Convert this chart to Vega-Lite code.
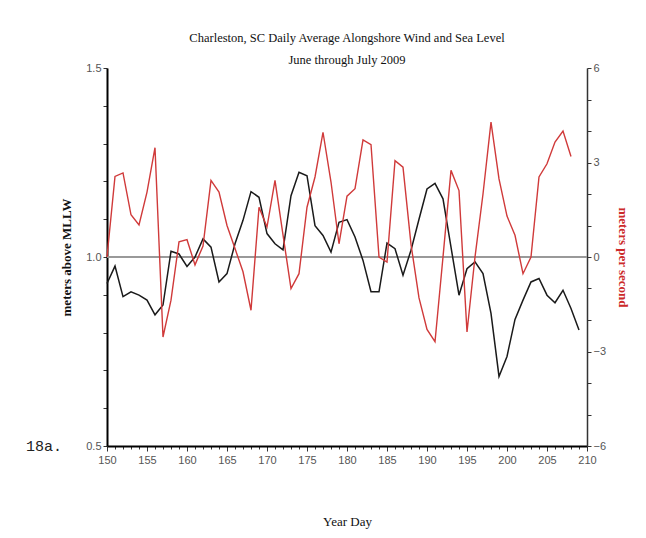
{
  "$schema": "https://vega.github.io/schema/vega-lite/v6.json",
  "width": 480,
  "height": 378,
  "autosize": "none",
  "padding": {"left": 107, "top": 68, "right": 59, "bottom": 92},
  "background": "white",
  "config": {"view": {"stroke": null}, "axis": {"grid": false, "labelFlush": false, "labelOverlap": false}},
  "title": {
    "text": "Charleston, SC Daily Average Alongshore Wind and Sea Level",
    "subtitle": "June through July 2009",
    "font": "Liberation Serif",
    "fontSize": 12.5,
    "fontWeight": "normal",
    "color": "#111111",
    "subtitleFont": "Liberation Serif",
    "subtitleFontSize": 12.5,
    "subtitleColor": "#111111",
    "anchor": "middle",
    "offset": -4,
    "subtitlePadding": 9
  },
  "datasets": {
    "sea": [
      {"day": 150, "sea": 0.930}, {"day": 151, "sea": 0.976}, {"day": 152, "sea": 0.895}, {"day": 153, "sea": 0.908},
      {"day": 154, "sea": 0.899}, {"day": 155, "sea": 0.886}, {"day": 156, "sea": 0.847}, {"day": 157, "sea": 0.873},
      {"day": 158, "sea": 1.015}, {"day": 159, "sea": 1.008}, {"day": 160, "sea": 0.975}, {"day": 161, "sea": 1.000},
      {"day": 162, "sea": 1.048}, {"day": 163, "sea": 1.026}, {"day": 164, "sea": 0.934}, {"day": 165, "sea": 0.956},
      {"day": 166, "sea": 1.035}, {"day": 167, "sea": 1.097}, {"day": 168, "sea": 1.173}, {"day": 169, "sea": 1.158},
      {"day": 170, "sea": 1.062}, {"day": 171, "sea": 1.035}, {"day": 172, "sea": 1.019}, {"day": 173, "sea": 1.162},
      {"day": 174, "sea": 1.224}, {"day": 175, "sea": 1.215}, {"day": 176, "sea": 1.083}, {"day": 177, "sea": 1.057},
      {"day": 178, "sea": 1.013}, {"day": 179, "sea": 1.092}, {"day": 180, "sea": 1.099}, {"day": 181, "sea": 1.053},
      {"day": 182, "sea": 0.991}, {"day": 183, "sea": 0.908}, {"day": 184, "sea": 0.908}, {"day": 185, "sea": 1.037},
      {"day": 186, "sea": 1.022}, {"day": 187, "sea": 0.952}, {"day": 188, "sea": 1.018}, {"day": 189, "sea": 1.100},
      {"day": 190, "sea": 1.180}, {"day": 191, "sea": 1.195}, {"day": 192, "sea": 1.154}, {"day": 193, "sea": 1.026},
      {"day": 194, "sea": 0.899}, {"day": 195, "sea": 0.969}, {"day": 196, "sea": 0.987}, {"day": 197, "sea": 0.956},
      {"day": 198, "sea": 0.851}, {"day": 199, "sea": 0.684}, {"day": 200, "sea": 0.737}, {"day": 201, "sea": 0.835},
      {"day": 202, "sea": 0.886}, {"day": 203, "sea": 0.934}, {"day": 204, "sea": 0.943}, {"day": 205, "sea": 0.899},
      {"day": 206, "sea": 0.879}, {"day": 207, "sea": 0.912}, {"day": 208, "sea": 0.864}, {"day": 209, "sea": 0.807}
    ],
    "wind": [
      {"day": 150, "wind": 0.0}, {"day": 151, "wind": 2.56}, {"day": 152, "wind": 2.67}, {"day": 153, "wind": 1.34},
      {"day": 154, "wind": 1.02}, {"day": 155, "wind": 2.06}, {"day": 156, "wind": 3.47}, {"day": 157, "wind": -2.54},
      {"day": 158, "wind": -1.37}, {"day": 159, "wind": 0.48}, {"day": 160, "wind": 0.55}, {"day": 161, "wind": -0.25},
      {"day": 162, "wind": 0.35}, {"day": 163, "wind": 2.43}, {"day": 164, "wind": 2.06}, {"day": 165, "wind": 1.0},
      {"day": 166, "wind": 0.27}, {"day": 167, "wind": -0.47}, {"day": 168, "wind": -1.69}, {"day": 169, "wind": 1.58},
      {"day": 170, "wind": 0.95}, {"day": 171, "wind": 2.43}, {"day": 172, "wind": 0.7}, {"day": 173, "wind": -1.0},
      {"day": 174, "wind": -0.53}, {"day": 175, "wind": 1.58}, {"day": 176, "wind": 2.54}, {"day": 177, "wind": 3.96},
      {"day": 178, "wind": 2.38}, {"day": 179, "wind": 0.42}, {"day": 180, "wind": 1.93}, {"day": 181, "wind": 2.17},
      {"day": 182, "wind": 3.72}, {"day": 183, "wind": 3.57}, {"day": 184, "wind": 0.0}, {"day": 185, "wind": -0.16},
      {"day": 186, "wind": 3.06}, {"day": 187, "wind": 2.85}, {"day": 188, "wind": 0.4}, {"day": 189, "wind": -1.3},
      {"day": 190, "wind": -2.3}, {"day": 191, "wind": -2.69}, {"day": 192, "wind": 0.0}, {"day": 193, "wind": 2.75},
      {"day": 194, "wind": 2.11}, {"day": 195, "wind": -2.38}, {"day": 196, "wind": 0.0}, {"day": 197, "wind": 2.0},
      {"day": 198, "wind": 4.28}, {"day": 199, "wind": 2.48}, {"day": 200, "wind": 1.3}, {"day": 201, "wind": 0.69},
      {"day": 202, "wind": -0.53}, {"day": 203, "wind": 0.0}, {"day": 204, "wind": 2.54}, {"day": 205, "wind": 2.96},
      {"day": 206, "wind": 3.65}, {"day": 207, "wind": 4.0}, {"day": 208, "wind": 3.19}
    ],
    "note": [{"label": "18a."}]
  },
  "layer": [
    {
      "layer": [
        {
          "data": {"name": "sea"},
          "mark": {"type": "rule", "color": "#999999", "strokeWidth": 1},
          "encoding": {
            "y": {
              "datum": 1.0, "type": "quantitative",
              "scale": {"domain": [0.5, 1.5], "nice": false, "zero": false},
              "axis": {
                "title": "meters above MLLW",
                "titleFont": "Liberation Serif", "titleFontSize": 13, "titleFontWeight": "bold", "titleColor": "#111111",
                "titlePadding": 12,
                "values": [0.5, 0.6, 0.7, 0.8, 0.9, 1.0, 1.1, 1.2, 1.3, 1.4, 1.5],
                "labelExpr": "(abs(datum.value - 0.5) < 0.001 || abs(datum.value - 1) < 0.001 || abs(datum.value - 1.5) < 0.001) ? format(datum.value, '.1f') : ''",
                "labelFont": "Liberation Sans Narrow, Liberation Sans, sans-serif", "labelFontSize": 11, "labelColor": "#555555",
                "domainColor": "#000000", "domainWidth": 2,
                "tickColor": "#333333", "tickWidth": 1, "tickSize": 4
              }
            }
          }
        },
        {
          "data": {"name": "sea"},
          "mark": {"type": "line", "color": "#1a1a1a", "strokeWidth": 1.5},
          "encoding": {
            "x": {
              "field": "day", "type": "quantitative",
              "scale": {"domain": [150, 210], "nice": false, "zero": false},
              "axis": {
                "title": "Year Day",
                "titleFont": "Liberation Serif", "titleFontSize": 13, "titleFontWeight": "normal", "titleColor": "#111111",
                "titlePadding": 50,
                "values": [150,151,152,153,154,155,156,157,158,159,160,161,162,163,164,165,166,167,168,169,170,171,172,173,174,175,176,177,178,179,180,181,182,183,184,185,186,187,188,189,190,191,192,193,194,195,196,197,198,199,200,201,202,203,204,205,206,207,208,209,210],
                "labelExpr": "datum.value % 5 === 0 ? datum.label : ''",
                "labelFont": "Liberation Sans Narrow, Liberation Sans, sans-serif", "labelFontSize": 11, "labelColor": "#555555",
                "labelPadding": 3,
                "domainColor": "#000000", "domainWidth": 2,
                "tickColor": "#333333", "tickWidth": 1,
                "tickSize": {"condition": {"test": "datum.value % 5 === 0", "value": 5}, "value": 3}
              }
            },
            "y": {
              "field": "sea", "type": "quantitative",
              "scale": {"domain": [0.5, 1.5], "nice": false, "zero": false},
              "axis": {
                "title": "meters above MLLW",
                "titleFont": "Liberation Serif", "titleFontSize": 13, "titleFontWeight": "bold", "titleColor": "#111111",
                "titlePadding": 12,
                "values": [0.5, 0.6, 0.7, 0.8, 0.9, 1.0, 1.1, 1.2, 1.3, 1.4, 1.5],
                "labelExpr": "(abs(datum.value - 0.5) < 0.001 || abs(datum.value - 1) < 0.001 || abs(datum.value - 1.5) < 0.001) ? format(datum.value, '.1f') : ''",
                "labelFont": "Liberation Sans Narrow, Liberation Sans, sans-serif", "labelFontSize": 11, "labelColor": "#555555",
                "domainColor": "#000000", "domainWidth": 2,
                "tickColor": "#333333", "tickWidth": 1, "tickSize": 4
              }
            }
          }
        },
        {
          "data": {"name": "note"},
          "mark": {"type": "text", "font": "Liberation Mono", "fontSize": 15, "color": "#222222", "align": "center", "baseline": "middle", "dx": -63},
          "encoding": {
            "x": {
              "datum": 150, "type": "quantitative",
              "scale": {"domain": [150, 210], "nice": false, "zero": false},
              "axis": {
                "title": "Year Day",
                "titleFont": "Liberation Serif", "titleFontSize": 13, "titleFontWeight": "normal", "titleColor": "#111111",
                "titlePadding": 50,
                "values": [150,151,152,153,154,155,156,157,158,159,160,161,162,163,164,165,166,167,168,169,170,171,172,173,174,175,176,177,178,179,180,181,182,183,184,185,186,187,188,189,190,191,192,193,194,195,196,197,198,199,200,201,202,203,204,205,206,207,208,209,210],
                "labelExpr": "datum.value % 5 === 0 ? datum.label : ''",
                "labelFont": "Liberation Sans Narrow, Liberation Sans, sans-serif", "labelFontSize": 11, "labelColor": "#555555",
                "labelPadding": 3,
                "domainColor": "#000000", "domainWidth": 2,
                "tickColor": "#333333", "tickWidth": 1,
                "tickSize": {"condition": {"test": "datum.value % 5 === 0", "value": 5}, "value": 3}
              }
            },
            "y": {
              "datum": 0.5, "type": "quantitative",
              "scale": {"domain": [0.5, 1.5], "nice": false, "zero": false},
              "axis": {
                "title": "meters above MLLW",
                "titleFont": "Liberation Serif", "titleFontSize": 13, "titleFontWeight": "bold", "titleColor": "#111111",
                "titlePadding": 12,
                "values": [0.5, 0.6, 0.7, 0.8, 0.9, 1.0, 1.1, 1.2, 1.3, 1.4, 1.5],
                "labelExpr": "(abs(datum.value - 0.5) < 0.001 || abs(datum.value - 1) < 0.001 || abs(datum.value - 1.5) < 0.001) ? format(datum.value, '.1f') : ''",
                "labelFont": "Liberation Sans Narrow, Liberation Sans, sans-serif", "labelFontSize": 11, "labelColor": "#555555",
                "domainColor": "#000000", "domainWidth": 2,
                "tickColor": "#333333", "tickWidth": 1, "tickSize": 4
              }
            },
            "text": {"field": "label"}
          }
        }
      ]
    },
    {
      "data": {"name": "wind"},
      "mark": {"type": "line", "color": "#d03a3a", "strokeWidth": 1.4},
      "encoding": {
        "x": {
          "field": "day", "type": "quantitative",
          "scale": {"domain": [150, 210], "nice": false, "zero": false},
          "axis": {
            "title": "Year Day",
            "titleFont": "Liberation Serif", "titleFontSize": 13, "titleFontWeight": "normal", "titleColor": "#111111",
            "titlePadding": 50,
            "values": [150,151,152,153,154,155,156,157,158,159,160,161,162,163,164,165,166,167,168,169,170,171,172,173,174,175,176,177,178,179,180,181,182,183,184,185,186,187,188,189,190,191,192,193,194,195,196,197,198,199,200,201,202,203,204,205,206,207,208,209,210],
            "labelExpr": "datum.value % 5 === 0 ? datum.label : ''",
            "labelFont": "Liberation Sans Narrow, Liberation Sans, sans-serif", "labelFontSize": 11, "labelColor": "#555555",
            "labelPadding": 3,
            "domainColor": "#000000", "domainWidth": 2,
            "tickColor": "#333333", "tickWidth": 1,
            "tickSize": {"condition": {"test": "datum.value % 5 === 0", "value": 5}, "value": 3}
          }
        },
        "y": {
          "field": "wind", "type": "quantitative",
          "scale": {"domain": [-6, 6], "nice": false, "zero": false},
          "axis": {
            "orient": "right",
            "title": "meters per second",
            "titleFont": "Liberation Serif", "titleFontSize": 13, "titleFontWeight": "bold", "titleColor": "#cc2a2a",
            "titlePadding": 10,
            "values": [-6, -5, -4, -3, -2, -1, 0, 1, 2, 3, 4, 5, 6],
            "labelExpr": "datum.value % 3 === 0 ? datum.label : ''",
            "labelFont": "Liberation Sans Narrow, Liberation Sans, sans-serif", "labelFontSize": 11, "labelColor": "#555555",
            "domainColor": "#333333", "domainWidth": 1.5,
            "tickColor": "#333333", "tickWidth": 1, "tickSize": 4
          }
        }
      }
    }
  ],
  "resolve": {"scale": {"y": "independent"}}
}
